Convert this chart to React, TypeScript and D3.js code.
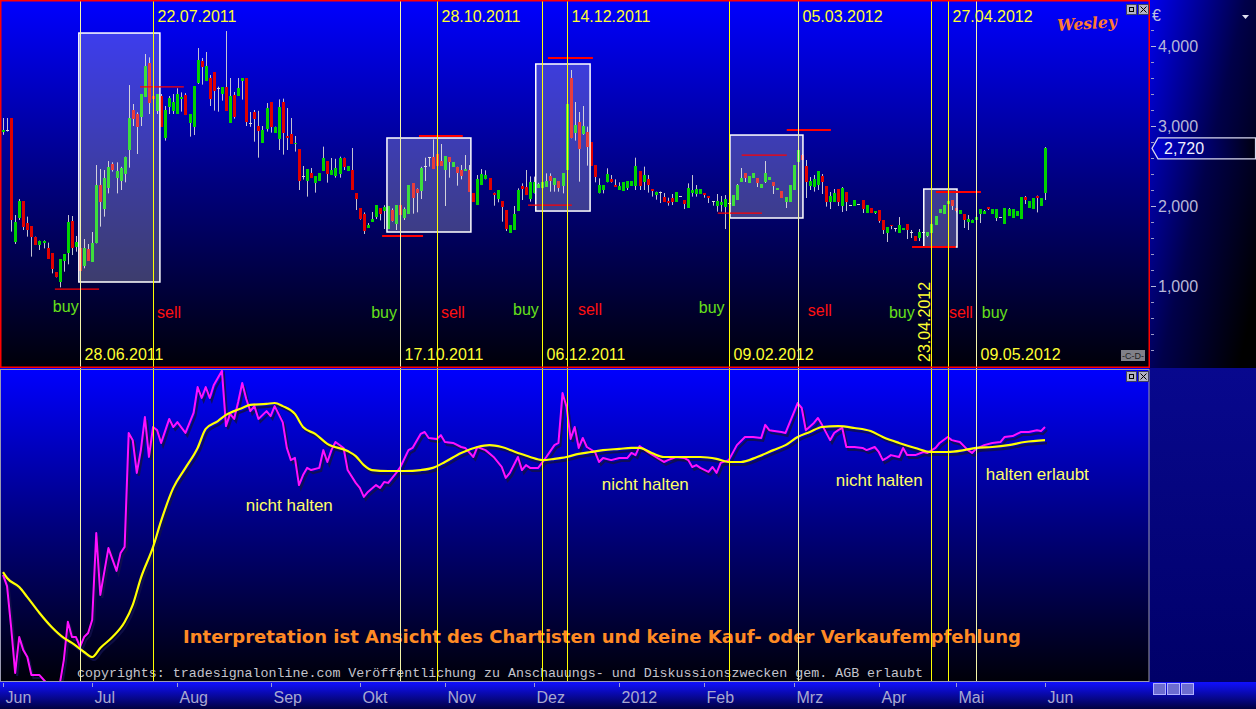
import React from "react";
import * as d3 from "d3";

// daily candles: [open, high, low, close] in EUR, Jun 2011 .. Jun 2012
const ohlc: [number, number, number, number][] = [
  [2930,3100,2890,2950],[2950,3100,2930,2950],[3100,3100,1680,1825],[1554,1887,1525,1804],[1854,2087,1825,2062],
  [2062,2062,1700,1742],[1783,1867,1617,1700],[1750,1750,1367,1608],[1608,1617,1512,1512],[1512,1567,1450,1567],
  [1540,1570,1470,1560],[1471,1542,1342,1342],[1408,1408,1158,1217],[1175,1175,1108,1108],[1054,1337,983,1337],
  [1317,1396,1179,1396],[1408,1887,1271,1804],[1812,1875,1387,1479],[1492,1625,1429,1554],[1479,1500,1190,1192],
  [1250,1587,1221,1471],[1458,1525,1317,1317],[1304,1675,1304,1533],[1533,2512,1533,2262],[2262,2462,1742,2054],
  [1962,2450,1867,2354],[2229,2562,2158,2483],[2525,2546,2430,2450],[2354,2546,2158,2437],[2312,2490,2200,2479],
  [2400,2617,2296,2617],[2700,3512,2479,3104],[3200,3275,3000,3087],[3146,3170,2650,2992],[3117,3400,3000,3400],
  [3367,3900,3367,3750],[3783,3858,3150,3283],[3375,3400,3300,3337],[3192,3400,3150,3400],[3375,3400,2990,2992],
  [2854,3250,2817,3200],[3233,3375,3150,3350],[3192,3400,3150,3300],[3150,3471,3150,3400],[3340,3420,3180,3360],
  [3383,3410,3137,3137],[3042,3150,2867,3150],[2992,3500,2887,3500],[3542,3975,3525,3825],[3808,3850,3517,3733],
  [3562,3925,3562,3750],[3600,3637,3250,3342],[3675,3675,3192,3442],[3470,3492,3179,3470],[3400,3483,3317,3483],
  [3483,4187,3192,3192],[3042,3600,3042,3375],[3383,3425,3092,3117],[3375,3600,3375,3471],[3558,3600,3330,3600],
  [3600,3600,3000,3054],[3040,3175,2990,3030],[3175,3200,2804,3092],[3000,3190,2604,2933],[2792,3000,2792,2950],
  [2967,3287,2930,3225],[3300,3300,2917,2992],[2917,2992,2917,2992],[2837,3333,2700,3233],[3300,3342,2642,2917],
  [2870,3225,2700,2850],[2900,3100,2775,2775],[2770,2875,2680,2790],[2712,2712,2200,2317],[2370,2500,2330,2370],
  [2308,2462,2117,2462],[2408,2475,2354,2354],[2292,2375,2167,2375],[2312,2408,2312,2408],[2437,2742,2437,2604],
  [2562,2562,2292,2400],[2387,2600,2387,2450],[2375,2590,2354,2475],[2400,2617,2354,2604],[2604,2604,2450,2492],
  [2437,2500,2437,2500],[2450,2725,2200,2200],[2162,2162,1950,2087],[1975,1975,1830,1837],[1900,1920,1650,1687],
  [1725,1787,1725,1762],[1800,1925,1800,1837],[1867,2012,1837,2012],[1975,1975,1820,1900],[1942,2010,1712,1987],
  [1712,2000,1712,2000],[1950,1970,1805,1817],[1775,2012,1700,2012],[2008,2008,1887,1887],[1846,1983,1825,1958],
  [1900,2262,1900,2262],[2283,2283,1904,2104],[2208,2220,1921,2158],[2187,2490,2087,2479],[2500,2604,2312,2500],
  [2608,2608,2492,2608],[2608,2833,2462,2462],[2650,2650,2504,2504],[2562,2775,2504,2504],[2450,2625,2000,2625],
  [2608,2608,2354,2554],[2492,2546,2492,2546],[2483,2490,2254,2408],[2450,2512,2333,2375],[2440,2637,2440,2460],
  [2450,2512,2179,2179],[2158,2158,2054,2054],[2012,2387,2012,2337],[2262,2462,2262,2400],[2333,2446,2333,2387],
  [2346,2346,2200,2200],[2167,2167,2004,2137],[2087,2200,2046,2200],[2062,2062,1804,1992],[1950,1950,1687,1712],
  [1667,1762,1667,1762],[1700,2000,1700,1900],[1937,2221,1937,2200],[2254,2283,2075,2212],[2233,2450,2137,2137],
  [2087,2370,2054,2304],[2158,2367,2158,2304],[2230,2290,2230,2280],[2229,2367,2179,2300],[2242,2408,2242,2312],
  [2375,2408,2179,2317],[2262,2346,2179,2346],[2312,2312,2179,2221],[2254,2408,2158,2408],[2450,3337,2387,3275],
  [3596,3700,2846,2846],[2917,3300,2817,3012],[3050,3175,2304,2708],[2896,3250,2890,3000],[2925,2992,2504,2733],
  [2796,2796,2504,2504],[2512,2512,2296,2367],[2158,2346,2158,2258],[2200,2262,2158,2262],[2296,2471,2296,2400],
  [2333,2387,2292,2304],[2260,2333,2240,2240],[2200,2296,2200,2254],[2192,2296,2192,2296],[2229,2312,2200,2312],
  [2254,2312,2254,2312],[2254,2604,2200,2500],[2437,2437,2200,2254],[2304,2492,2200,2387],[2337,2387,2167,2262],
  [2210,2210,2117,2190],[2137,2179,2079,2179],[2160,2180,2037,2170],[2112,2162,2054,2054],[2060,2104,2004,2040],
  [2104,2150,2012,2054],[2054,2175,2054,2175],[2125,2125,2125,2125],[2075,2075,1962,2025],[1979,2283,1979,2221],
  [2167,2387,2117,2200],[2150,2262,2117,2212],[2150,2212,2150,2212],[2160,2160,2104,2140],[2125,2125,2037,2105],
  [2062,2062,2004,2062],[2004,2150,1929,2062],[2012,2125,1929,2054],[1992,2137,1712,2087],[2040,2062,2020,2030],
  [2000,2137,2000,2137],[2075,2275,2075,2262],[2300,2475,2300,2350],[2412,2412,2300,2350],[2287,2375,2287,2375],
  [2350,2412,2350,2412],[2350,2350,2237,2287],[2225,2275,2225,2275],[2300,2562,2287,2412],[2325,2362,2325,2362],
  [2300,2300,2150,2250],[2200,2225,2200,2225],[2187,2187,2100,2100],[2050,2112,1975,2112],[2050,2262,2050,2262],
  [2200,2512,2200,2512],[2550,2725,2540,2700],[2637,2650,2575,2575],[2500,2575,2100,2300],[2250,2362,2200,2312],
  [2237,2387,2180,2337],[2262,2437,2200,2437],[2375,2400,2150,2300],[2250,2250,1992,2050],[2050,2175,1962,2125],
  [2050,2212,2050,2162],[2212,2212,2000,2050],[2000,2237,1925,2225],[2175,2175,1937,2050],[2012,2012,2012,2012],
  [2000,2075,2000,2075],[2025,2025,2025,2025],[2075,2075,1912,1962],[1912,2012,1912,2012],[1975,1975,1912,1912],
  [1912,1937,1900,1937],[1950,1950,1790,1812],[1825,1825,1650,1700],[1662,1737,1550,1737],[1760,1760,1710,1745],
  [1725,1725,1680,1725],[1662,1862,1662,1762],[1700,1725,1700,1725],[1775,1775,1587,1700],[1675,1700,1600,1675],
  [1625,1625,1562,1562],[1600,1712,1562,1675],[1675,1675,1675,1675],[1625,1675,1610,1675],[1662,1775,1662,1775],
  [1762,1875,1762,1875],[1912,1962,1912,1962],[1900,2012,1900,2012],[2025,2062,2025,2062],[2075,2075,1950,2000],
  [1970,1970,1920,1940],[1900,1950,1900,1950],[1900,1900,1725,1825],[1800,1887,1700,1837],[1790,1830,1790,1820],
  [1825,1862,1825,1862],[1900,1962,1787,1962],[1900,1950,1900,1940],[1985,1985,1950,1965],[1900,1962,1900,1962],
  [1850,1962,1812,1962],[1862,1862,1862,1862],[1775,1975,1775,1975],[1875,1975,1875,1962],[1850,1962,1850,1962],
  [1875,1937,1875,1937],[1837,2112,1837,2112],[2112,2125,2025,2075],[1975,2062,1975,2062],[1962,2100,1962,2100],
  [2120,2130,1920,2100],[2000,2100,2000,2100],[2162,2737,2075,2720],
];

const monthLabels = ["Jun","Jul","Aug","Sep","Okt","Nov","Dez","2012","Feb","Mrz","Apr","Mai","Jun"];
const monthStart = [0,22,43,66,88,109,131,152,173,195,216,235,257];

const priceLabels = [1000,2000,3000,4000];
const priceMinor = [200,400,600,800,1200,1400,1600,1800,2200,2400,2600,2800,3200,3400,3600,3800,4200];

const eventDates = ["28.06.2011","22.07.2011","17.10.2011","28.10.2011","06.12.2011","14.12.2011","09.02.2012","05.03.2012","23.04.2012","27.04.2012","09.05.2012"];
const eventIdx = [19,37,98,107,133,139,179,196,229,233,240];
const eventRow = ["bottom","top","bottom","top","bottom","top","bottom","top","rot","top","bottom"];
const eventPale = [true,false,true,false,false,false,false,true,false,false,true];

const signalText = ["buy","sell","buy","sell","buy","sell","buy","sell","buy","sell","buy"];
const signalIdx = [12.3,38,90.8,108,125.8,141.8,171.6,198.5,218.5,233.3,241.4];

const boxFrom = [18.7,94.7,131.4,179.3,227.1];
const boxTo = [38.7,115.4,144.8,197.3,235.3];
const boxHigh = [4162,2850,3775,2887,2212];
const boxLow = [1050,1675,1937,1850,1487];

const levelPrice = [962,3490,1625,2875,3850,2012,2950,2637,1912,2175,1487];
const levelFrom = [12.8,33.8,93.5,102.6,134.4,129.5,193.3,182.2,176.3,230.1,224.2];
const levelTo = [23.7,44.6,103.6,113.4,145.5,140.3,204.2,193.3,187.2,241.2,235];
const levelMajor = [false,false,true,true,true,false,true,false,false,true,true];

// indicator (magenta) and its smoothing (yellow)
const momIdx = [0,1,2,3,4,5,6,7,9,11,14,15,16,17,18,19,20,21,22,23,24,26,28,29,30,31,32,33,34,35,36,37,38,39,41,42,43,45,47,48,49,50,51,52,54,55,56,57,58,59,60,61,62,63,65,66,67,69,70,71,72,73,74,75,76,78,79,80,81,82,84,85,87,88,89,90,92,93,94,95,96,97,98,100,101,103,104,105,107,108,109,111,113,114,116,117,119,121,123,124,125,127,128,129,130,132,134,136,137,138,139,140,141,142,143,144,146,147,148,150,152,154,155,156,157,159,161,163,164,166,168,169,170,171,172,174,175,176,177,179,181,183,185,187,188,189,192,193,194,196,197,198,200,201,202,204,205,206,207,208,210,212,213,215,216,217,218,219,221,222,223,225,227,228,230,231,233,234,236,238,239,240,242,244,246,247,249,251,253,255,256,257];
const momVal = [34,30.4,17.3,2.6,14.1,9.9,7.7,1.9,1.9,-1,-1,6.7,19,14.1,14.1,10.9,14.1,15.4,19.6,47.4,27.6,42.6,35.3,41,43,79.5,77.2,66.7,74,84.6,71.8,81.4,80.4,76.3,84,81.4,83,79.5,85.9,94.2,90.7,94.2,90.7,94.9,99.4,81.7,85.6,84,89.4,95.5,90.4,86.5,88.1,84,86.5,84.9,88.1,82.9,74.7,70.8,71.5,62.8,66,68.3,67.6,68.3,74,70.2,74,76.6,74.7,67.6,63.5,61.9,59,60.6,62.8,61.9,63.8,63.5,65.1,66.7,68.6,74,74.7,79.2,79.8,77.9,77.6,78.8,76.6,76.3,75,74.7,71.8,75,74,71.8,68.6,65.1,66.7,71.8,67.6,69.2,68.3,68.3,71.8,75.6,76.3,92.3,87.8,77.6,81.4,74.7,77.9,75,73.4,70.2,71.5,70.8,71.5,71.5,73.1,72.4,75.3,73.4,71.8,70.2,70.8,71.8,71.5,70.8,68.6,69.2,68.3,67,68.6,66.7,69.9,70.8,75.6,78.2,78.2,77.9,82.1,80.4,79.8,79.5,82.7,89.1,87.5,80.4,82.7,84.3,82.1,77.2,79.5,80.4,81.1,75,75,74.7,74,75,73.4,70.8,71.5,72.4,71.8,74.7,72.4,72.4,73.4,73.1,74.7,76.3,78.2,77.2,76.6,74,73.1,74.4,75.6,76.3,76.6,78.2,78.5,79.8,79.8,80.4,80.1,81.4];

const avgIdx = [0,1,4,6,9,12,15,17,20,22,24,27,30,32,34,37,39,42,45,48,50,53,55,57,59,61,65,67,69,72,74,77,80,85,87,89,91,95,99,103,106,109,113,117,120,123,127,130,133,136,139,142,145,148,152,155,157,160,163,168,172,176,179,182,186,190,193,196,199,202,206,210,214,217,221,225,229,233,237,240,244,248,252,257];
const avgVal = [34.9,33,30.1,26.9,21.8,17.3,13.8,12.2,9.3,7.7,10.6,14.1,18.9,24.4,33,42.9,51.3,61.9,68.3,74.7,80.8,83.3,85.3,86.5,87.5,88.5,88.8,89.1,88.1,85.6,81.4,79.2,76,73.7,72.1,69.2,67.6,67.3,67.3,67.6,68.3,70.2,73.1,75,75.6,75,73.1,71.8,70.8,71.2,71.8,72.8,73.4,74,74.4,74.7,74.7,73.1,71.8,71.8,71.8,71.2,70.2,70.2,71.8,74,75.6,78.2,79.8,81.4,81.7,81.1,80.1,78.2,76.3,74.7,73.4,73.4,74,74.7,75,75.6,76.6,77.2];

const noteText = ["nicht halten","nicht halten","nicht halten","halten erlaubt"];
const noteIdx = [59.9,147.7,205.4,242.4];
const noteVal = [54.5,61.2,62.5,64.4];

const FONT = "'Liberation Sans', Arial, sans-serif";

export default function App() {
  const W = 1256, H = 709;
  const PR = 1149; // plot right edge
  const x = d3.scaleLinear().domain([0, 257]).range([3, 1045]);
  const yP = d3.scaleLinear().domain([1000, 4000]).range([286, 46]);
  const yO = d3.scaleLinear().domain([0, 100]).range([681, 369]);

  const momLine = d3.line<number>().x((d, i) => x(momIdx[i])).y((d) => yO(d))(momVal) || "";
  const avgLine = d3.line<number>().x((d, i) => x(avgIdx[i])).y((d) => yO(d)).curve(d3.curveMonotoneX)(avgVal) || "";

  const last = ohlc[ohlc.length - 1][3];
  const fmt = d3.format(",");
  const yLast = yP(last);

  return (
    <svg width={W} height={H} style={{ position: "absolute", left: 0, top: 0, display: "block" }}
      xmlns="http://www.w3.org/2000/svg">
      <defs>
        <linearGradient id="bgTop" x1="0" y1="0" x2="0" y2="1">
          <stop offset="0" stopColor="#0000ff" />
          <stop offset="0.5" stopColor="#00007e" />
          <stop offset="1" stopColor="#000008" />
        </linearGradient>
        <linearGradient id="bgLow" x1="0" y1="0" x2="0" y2="1">
          <stop offset="0" stopColor="#0000ff" />
          <stop offset="0.5" stopColor="#00007e" />
          <stop offset="1" stopColor="#000008" />
        </linearGradient>
        <linearGradient id="bgAxisTop" x1="0" y1="0" x2="1" y2="0.8">
          <stop offset="0" stopColor="#0000f0" />
          <stop offset="0.55" stopColor="#00004a" />
          <stop offset="1" stopColor="#000000" />
        </linearGradient>
        <linearGradient id="bgAxisLow" x1="0" y1="0" x2="0" y2="1">
          <stop offset="0" stopColor="#08088e" />
          <stop offset="1" stopColor="#000068" />
        </linearGradient>
        <linearGradient id="bgX" x1="0" y1="0" x2="0" y2="1">
          <stop offset="0" stopColor="#1010ff" />
          <stop offset="1" stopColor="#000040" />
        </linearGradient>
        <linearGradient id="lastLbl" x1="0" y1="0" x2="1" y2="0">
          <stop offset="0" stopColor="#0000d8" />
          <stop offset="1" stopColor="#000010" />
        </linearGradient>
        <clipPath id="clipTop"><rect x={0} y={0} width={PR} height={368} /></clipPath>
        <clipPath id="clipLow"><rect x={0} y={369} width={PR} height={312} /></clipPath>
      </defs>

      {/* backgrounds */}
      <rect x={0} y={0} width={PR} height={368} fill="url(#bgTop)" />
      <rect x={0} y={368} width={PR} height={314} fill="url(#bgLow)" />
      <rect x={PR} y={0} width={W - PR} height={368} fill="url(#bgAxisTop)" />
      <rect x={PR} y={368} width={W - PR} height={314} fill="url(#bgAxisLow)" />
      <rect x={0} y={682} width={W} height={27} fill="url(#bgX)" />

      {/* top panel */}
      <g clipPath="url(#clipTop)">
        {ohlc.map(([o, h, l, c], i) => {
          const cx = Math.round(x(i));
          const up = c >= o;
          const yT = Math.round(yP(Math.max(o, c)));
          const yB = Math.round(yP(Math.min(o, c)));
          const doji = Math.abs(c - o) < 12;
          return (
            <g key={i}>
              <line x1={cx + 0.5} x2={cx + 0.5} y1={yP(h)} y2={yP(l)} stroke="#c4c4d0" strokeWidth={1} />
              {doji ? (
                <line x1={cx - 1} x2={cx + 2} y1={yT + 0.5} y2={yT + 0.5} stroke="#d8d8d8" strokeWidth={1} />
              ) : (
                <rect x={cx - 1} y={yT} width={3} height={Math.max(1, yB - yT)} fill={up ? "#00d400" : "#e00000"} />
              )}
            </g>
          );
        })}
        {boxFrom.map((b, k) => (
          <rect key={k} x={x(b)} y={yP(boxHigh[k])} width={x(boxTo[k]) - x(b)} height={yP(boxLow[k]) - yP(boxHigh[k])}
            fill="#ffffff" fillOpacity={0.24} stroke="#ffffff" strokeWidth={1.5} />
        ))}
        {levelPrice.map((p, k) => (
          <line key={k} x1={x(levelFrom[k])} x2={x(levelTo[k])} y1={yP(p)} y2={yP(p)} stroke="#ff0000"
            strokeWidth={levelMajor[k] ? 2 : 1.2} />
        ))}
        {signalText.map((t, k) => (
          <text key={k} x={x(signalIdx[k])} y={[312, 318, 318, 318, 315, 315, 313, 316, 318, 318, 318][k]}
            fontFamily={FONT} fontSize={16} fill={t === "buy" ? "#66e01a" : "#ff1010"}>{t}</text>
        ))}
        <text x={1057} y={29} fontFamily="'DejaVu Serif', serif" fontStyle="italic" fontWeight="bold" fontSize={16}
          fill="#ff7a30" textLength={60} lengthAdjust="spacingAndGlyphs" transform="rotate(-4 1087 24)">Wesley</text>
      </g>

      {/* lower panel lines */}
      <g clipPath="url(#clipLow)">
        <path d={momLine} fill="none" stroke="#10104a" strokeWidth={2} transform="translate(2,3)" opacity={0.85} />
        <path d={avgLine} fill="none" stroke="#10104a" strokeWidth={2.2} transform="translate(2,3)" opacity={0.85} />
        <path d={momLine} fill="none" stroke="#ff10ff" strokeWidth={2} strokeLinejoin="round" />
        <path d={avgLine} fill="none" stroke="#ffff00" strokeWidth={2.2} />
        {noteText.map((t, k) => (
          <text key={k} x={x(noteIdx[k])} y={yO(noteVal[k])} fontFamily={FONT} fontSize={17} fill="#ffff66">{t}</text>
        ))}
        <text x={183} y={643} fontFamily="'DejaVu Sans', Verdana, sans-serif" fontWeight="bold" fontSize={17}
          fill="#ff8a24" textLength={838} lengthAdjust="spacingAndGlyphs">
          Interpretation ist Ansicht des Chartisten und keine Kauf- oder Verkaufempfehlung
        </text>
        <text x={77} y={677} fontFamily="'Liberation Mono', 'Courier New', monospace" fontSize={13.3}
          fill="#c4c4cc" textLength={846} lengthAdjust="spacingAndGlyphs">
          copyrights: tradesignalonline.com Veröffentlichung zu Anschauungs- und Diskussionszwecken gem. AGB erlaubt
        </text>
      </g>

      {/* event lines and labels */}
      {eventIdx.map((e, k) => {
        const ex = Math.round(x(e)) + 0.5;
        const col = eventPale[k] ? "#f4f4a8" : "#ffff00";
        return (
          <g key={k}>
            <line x1={ex} x2={ex} y1={0} y2={681} stroke={col} strokeWidth={1} />
            {eventRow[k] === "top" && (
              <text x={ex + 4} y={22} fontFamily={FONT} fontSize={16} fill="#ffff30">{eventDates[k]}</text>
            )}
            {eventRow[k] === "bottom" && (
              <text x={ex + 4} y={360} fontFamily={FONT} fontSize={16} fill="#ffff30">{eventDates[k]}</text>
            )}
            {eventRow[k] === "rot" && (
              <text transform={`translate(${ex - 2},362) rotate(-90)`} fontFamily={FONT} fontSize={16}
                fill="#ffff30">{eventDates[k]}</text>
            )}
          </g>
        );
      })}

      {/* panel borders */}
      <rect x={0.75} y={0.75} width={PR - 0.5} height={366.5} fill="none" stroke="#ff0000" strokeWidth={1.5} />
      <rect x={0.5} y={369.5} width={PR - 0.5} height={312} fill="none" stroke="#9a9ab0" strokeWidth={1} />

      {/* panel buttons */}
      {[4, 371].map((by, k) => (
        <g key={k}>
          <rect x={1126.5} y={by + 0.5} width={10} height={10} fill="#b4b4c4" stroke="#404060" />
          <rect x={1129.5} y={by + 3.5} width={4} height={4} fill="none" stroke="#000" />
          <rect x={1138.5} y={by + 0.5} width={10} height={10} fill="#b4b4c4" stroke="#404060" />
          <path d={`M${1140.5},${by + 2.5} L${1146.5},${by + 8.5} M${1146.5},${by + 2.5} L${1140.5},${by + 8.5}`}
            stroke="#000" strokeWidth={1} />
        </g>
      ))}
      <rect x={1121} y={350} width={24} height={11} fill="#808088" />
      <text x={1133} y={359} textAnchor="middle" fontFamily={FONT} fontSize={9} fill="#202020">-C-D-</text>

      {/* right price axis */}
      <text x={1152} y={21} fontFamily={FONT} fontSize={16} fill="#c0c0e0">€</text>
      <path d="M1242,15 L1249,15 L1245.5,19 Z" fill="#e0e0f0" />
      {priceMinor.map((p) => (
        <line key={p} x1={1151} x2={1154} y1={yP(p) + 0.5} y2={yP(p) + 0.5} stroke="#9c9cc8" />
      ))}
      {priceLabels.map((p) => (
        <g key={p}>
          <line x1={1151} x2={1156} y1={yP(p) + 0.5} y2={yP(p) + 0.5} stroke="#b8b8d8" />
          <text x={1158} y={yP(p) + 6} fontFamily={FONT} fontSize={16} fill="#b8b8d8">{fmt(p)}</text>
        </g>
      ))}
      <path d={`M1152,${yLast} L1158,${yLast - 10.5} H1255.5 V${yLast + 10.5} H1158 Z`} fill="url(#lastLbl)"
        stroke="#d8d8f0" strokeWidth={1.2} />
      <text x={1164} y={yLast + 6} fontFamily={FONT} fontSize={16} fill="#f0f0ff">{fmt(last)}</text>

      {/* time axis */}
      {monthStart.map((m, k) => {
        const mx = Math.round(x(m)) + 0.5;
        return (
          <g key={k}>
            <line x1={mx} x2={mx} y1={683} y2={687} stroke="#9c9cd0" />
            <text x={mx + 2} y={703} fontFamily={FONT} fontSize={16} fill="#a8a8d0">{monthLabels[k]}</text>
          </g>
        );
      })}
      {[1153, 1167, 1181].map((bx, k) => (
        <rect key={k} x={bx + 0.5} y={683.5} width={12} height={11} fill="#6c6cd0" stroke="#b0b0ff" />
      ))}
    </svg>
  );
}
